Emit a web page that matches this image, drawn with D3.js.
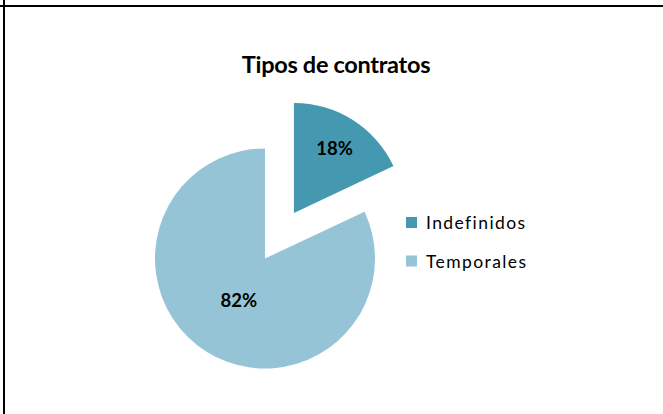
<!DOCTYPE html>
<html><head><meta charset="utf-8">
<script src="https://cdn.jsdelivr.net/npm/d3@7"></script>
<style>body{margin:0;background:#fff}svg{display:block}</style>
</head><body>
<svg id="c" width="663" height="414"></svg>
<script>
const categories = ["Indefinidos", "Temporales"];
const values = [18, 82];
const labels = ["18%", "82%"];
const title = "Tipos de contratos";
const colors = ["#4499B0", "#94C4D5"];

const svg = d3.select("#c");
// frame lines
svg.append("line").attr("x1",0).attr("x2",663).attr("y1",6).attr("y2",6).attr("stroke","#000").attr("stroke-width",2);
svg.append("line").attr("x1",4).attr("x2",4).attr("y1",0).attr("y2",414).attr("stroke","#000").attr("stroke-width",2);

svg.append("text").attr("x",336).attr("y",73).attr("text-anchor","middle")
  .attr("font-family","Lato").attr("font-weight","bold").attr("font-size",23.5)
  .attr("letter-spacing","-0.3").attr("fill","#000").text(title);

const cx = 265, cy = 258.5, R = 110, explode = 54;
const pie = d3.pie().sort(null).startAngle(0).endAngle(2*Math.PI);
const arcs = pie(values);
const arc = d3.arc().innerRadius(0).outerRadius(R);
const explodeBy = [explode, 0];
const labelR = [76, 49];

const g = svg.append("g").attr("transform", `translate(${cx},${cy})`);
arcs.forEach((a, i) => {
  const mid = (a.startAngle + a.endAngle) / 2;
  const ox = Math.sin(mid) * explodeBy[i], oy = -Math.cos(mid) * explodeBy[i];
  const sg = g.append("g").attr("transform", `translate(${ox},${oy})`);
  sg.append("path").attr("d", arc(a)).attr("fill", colors[i]);
  sg.append("text").attr("x", Math.sin(mid)*labelR[i]).attr("y", -Math.cos(mid)*labelR[i])
    .attr("text-anchor","middle").attr("dy","0.36em")
    .attr("font-family","Lato").attr("font-weight","bold").attr("font-size",18.5)
    .attr("fill","#000").text(labels[i]);
});

const leg = svg.append("g").attr("transform","translate(406,217)");
categories.forEach((c, i) => {
  const y = i * 38.5;
  leg.append("rect").attr("x",0).attr("y",y).attr("width",11).attr("height",11).attr("fill",colors[i]);
  leg.append("text").attr("x",20).attr("y",y+12).attr("font-family","Lato").attr("font-weight",400).attr("font-size",17.5)
    .attr("letter-spacing","1.4").attr("fill","#000").text(c);
});
</script>
</body></html>
